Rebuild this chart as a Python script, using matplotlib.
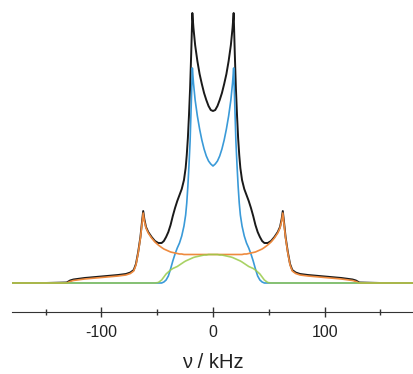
import numpy as np
import matplotlib
matplotlib.use('Agg')
from matplotlib import pyplot as plt
from matplotlib.ticker import MultipleLocator

plt.rcParams['font.family'] = ['Liberation Sans', 'DejaVu Sans']
plt.rcParams['axes.unicode_minus'] = False

# frequency grid (kHz), dense around the horns
nu = [-180, -150, -131, -128, -125, -115, -105, -95, -85, -78, -74, -71, -69, -67, -65,
      -63.5, -62.5, -61.5, -60, -58, -55, -52, -49, -46, -44, -42, -40, -38, -36, -34,
      -32, -30, -28, -26, -24.5, -23.5, -22.5, -21.5, -20.5, -19.5, -18.5, -17.5, -16,
      -14, -12, -10, -8, -6, -4, -2, 0,
      2, 4, 6, 8, 10, 12, 14, 16, 17.5, 18.5, 19.5, 20.5, 21.5, 22.5, 23.5, 24.5, 26,
      28, 30, 32, 34, 36, 38, 40, 42, 44, 46, 49, 52, 55, 58, 60, 61.5, 62.5, 63.5,
      65, 67, 69, 71, 74, 78, 85, 95, 105, 115, 125, 128, 131, 150, 180]

# experimental spectrum (a.u.)
exp_spec = [0, 0, 0.5, 2.5, 3.5, 5, 6, 7, 8, 9, 10.5, 13, 19, 31, 46,
            62, 72, 64, 56, 51, 46, 42, 40, 40, 42, 46, 51, 58, 67, 75,
            82, 88, 94, 103, 115, 128, 145, 168, 195, 230, 270, 255, 238,
            222, 209, 199, 190, 183, 177, 173, 172,
            173, 177, 183, 190, 199, 209, 222, 238, 255, 270, 230, 195, 168, 145, 128, 115, 103,
            94, 88, 82, 75, 67, 58, 51, 46, 42, 40, 40, 42, 46, 51, 56, 64, 72, 62,
            46, 31, 19, 13, 10.5, 9, 8, 7, 6, 5, 3.5, 2.5, 0.5, 0, 0]

# narrow pake component
pake_inner = [0, 0, 0, 0, 0, 0, 0, 0, 0, 0, 0, 0, 0, 0, 0,
              0, 0, 0, 0, 0, 0, 0, 0, 0, 1, 3, 7, 14, 22, 29,
              35, 40, 47, 57, 68, 80, 97, 118, 142, 178, 215, 200, 183,
              167, 154, 143, 134, 127, 122, 119, 117,
              119, 122, 127, 134, 143, 154, 167, 183, 200, 215, 178, 142, 118, 97, 80, 68, 57,
              47, 40, 35, 29, 22, 14, 7, 3, 1, 0, 0, 0, 0, 0, 0, 0, 0, 0,
              0, 0, 0, 0, 0, 0, 0, 0, 0, 0, 0, 0, 0, 0, 0]

# broad pake component
pake_outer = [0, 0, 0, 1.5, 2.5, 4, 5, 6, 7, 8, 9.5, 12, 18, 30, 45,
              60, 70, 62, 55, 50, 45, 41, 38, 35.5, 34, 33, 32, 31, 30.5, 30,
              29.5, 29, 29, 28.5, 28.5, 28.5, 28.5, 28.5, 28.5, 28.5, 28.5, 28.5, 28.5,
              28.5, 28.5, 28.5, 28.5, 28.5, 28.5, 28.5, 28.5,
              28.5, 28.5, 28.5, 28.5, 28.5, 28.5, 28.5, 28.5, 28.5, 28.5, 28.5, 28.5, 28.5, 28.5, 28.5, 28.5, 28.5,
              29, 29, 29.5, 30, 30.5, 31, 32, 33, 34, 35.5, 38, 41, 45, 50, 55, 62, 70, 60,
              45, 30, 18, 12, 9.5, 8, 7, 6, 5, 4, 2.5, 1.5, 0, 0, 0]

# isotropic hump
hump = [0, 0, 0, 0, 0, 0, 0, 0, 0, 0, 0, 0, 0, 0, 0,
        0, 0, 0, 0, 0, 0, 0, 0.5, 3, 6, 9, 11, 13, 14.5, 15.5,
        16.5, 18, 19.5, 21, 22, 22.5, 23, 23.5, 24, 24.5, 25, 25.5, 26,
        26.5, 27, 27.5, 28, 28, 28.5, 28.5, 28.5,
        28.5, 28.5, 28, 28, 27.5, 27, 26.5, 26, 25.5, 25, 24.5, 24, 23.5, 23, 22.5, 22, 21,
        19.5, 18, 16.5, 15.5, 14.5, 13, 11, 9, 6, 3, 0.5, 0, 0, 0, 0, 0, 0, 0,
        0, 0, 0, 0, 0, 0, 0, 0, 0, 0, 0, 0, 0, 0, 0]

fig = plt.figure(figsize=(4.14, 3.74), dpi=100)
ax = fig.add_axes([12/414, 62/374, 402/414, 312/374])

ax.plot(nu, exp_spec, color='#1a1a1a', lw=1.4)
ax.plot(nu, pake_inner, color='#3a9ad8', lw=1.2)
ax.plot(nu, pake_outer, color='#ee8a3e', lw=1.2)
ax.plot(nu, hump, color='#9acb4a', lw=1.2, alpha=0.85)

ax.set_xlim(-180, 180)
ax.set_ylim(-29, 283)

# only the bottom axis is shown
for side in ['left', 'right', 'top']:
    ax.spines[side].set_visible(False)
ax.spines['bottom'].set_color('#333333')
ax.set_yticks([])
ax.xaxis.set_major_locator(MultipleLocator(100))
ax.xaxis.set_minor_locator(MultipleLocator(50))
ax.tick_params(axis='x', which='major', direction='inout', length=7, width=1,
               colors='#333333', labelsize=11.5, pad=6)
ax.tick_params(axis='x', which='minor', direction='inout', length=4, width=1,
               colors='#333333')
for lab in ax.get_xticklabels():
    lab.set_color('#222222')
ax.set_xlabel('ν / kHz', fontsize=14.5, color='#222222', labelpad=9)

fig.savefig('out.png', dpi=100)
